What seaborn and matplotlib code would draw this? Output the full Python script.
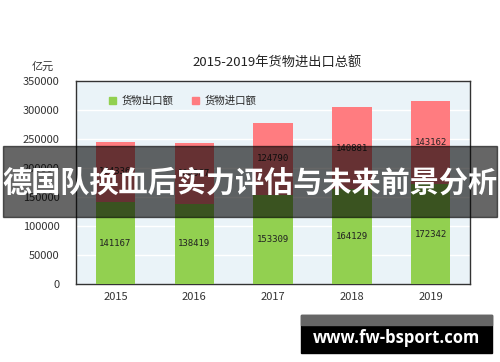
import seaborn as sns
import pandas as pd
import matplotlib.pyplot as plt
from matplotlib.patches import Rectangle, Patch

years = ['2015', '2016', '2017', '2018', '2019']
exports = [141167, 138419, 153309, 164129, 172342]
imports = [104336, 104967, 124790, 140881, 143162]
y_ticks = [0, 50000, 100000, 150000, 200000, 250000, 300000, 350000]

sns.set_style('white')
plt.rcParams['font.family'] = ['Noto Sans CJK SC', 'DejaVu Sans']

df = pd.DataFrame({'year': years, 'export': exports, 'import': imports})
df['total'] = df['export'] + df['import']

green = '#92d050'
red = '#ff7c80'

fig = plt.figure(figsize=(5, 3.62), dpi=100)
ax = fig.add_axes([0.152, 0.2155, 0.788, 0.5605])
ax.set_facecolor('#eaf3f8')

# 堆叠：先画总额（进口部分露在上面），再画出口
sns.barplot(data=df, x='year', y='total', color=red, width=0.5, ax=ax,
            saturation=1, zorder=2, linewidth=0)
sns.barplot(data=df, x='year', y='export', color=green, width=0.5, ax=ax,
            saturation=1, zorder=3, linewidth=0)

for i, (e, im) in enumerate(zip(exports, imports)):
    ax.text(i, e / 2, str(e), ha='center', va='center', fontsize=6.5,
            color='#222222', zorder=4, family='DejaVu Sans Mono')
    ax.text(i, e + im / 2, str(im), ha='center', va='center', fontsize=6.5,
            color='#222222', zorder=4, family='DejaVu Sans Mono')

ax.set_ylim(0, 350000)
ax.set_xlim(-0.5, 4.5)
ax.set_yticks(y_ticks)
ax.set_yticklabels([str(v) for v in y_ticks], fontsize=8, color='#333333')
ax.set_xticks(range(len(years)))
ax.set_xticklabels(years, fontsize=8, color='#333333')
ax.tick_params(axis='x', length=0, pad=6)
ax.set_xticks([0.5, 1.5, 2.5, 3.5], minor=True)
ax.tick_params(axis='x', which='minor', direction='in', length=3, color='#333333')
ax.tick_params(axis='y', direction='in', length=3, color='#333333', pad=12)
ax.yaxis.grid(True, color='white', linewidth=1)
ax.set_axisbelow(True)
ax.set_xlabel('')
ax.set_ylabel('')
for s in ax.spines.values():
    s.set_color('#333333')
    s.set_linewidth(1)

handles = [Patch(color=green, label='货物出口额'), Patch(color=red, label='货物进口额')]
ax.legend(handles=handles, loc='upper left', bbox_to_anchor=(0.06, 0.975),
          ncol=2, frameon=False, fontsize=7.5, handlelength=0.7,
          handleheight=0.7, handletextpad=0.5, columnspacing=1.8)

fig.text(0.554, 0.829, '2015-2019年货物进出口总额', ha='center', va='center',
         fontsize=9.5, color='#222222')
fig.text(0.086, 0.815, '亿元', ha='center', va='center', fontsize=8,
         color='#333333')

# 横幅
fig.patches.append(Rectangle((0.006, 0.4006), 0.988, 0.196,
                             transform=fig.transFigure, color='black',
                             alpha=0.6, zorder=10))
fig.text(0.5, 0.4945, '德国队换血后实力评估与未来前景分析', ha='center',
         va='center', fontsize=21, fontweight='heavy', color='white',
         zorder=11)

# 网址水印
fig.patches.append(Rectangle((0.602, 0.0249), 0.382, 0.105,
                             transform=fig.transFigure, color='black',
                             zorder=10))
fig.patches.append(Rectangle((0.602, 0.1022), 0.382, 0.0276,
                             transform=fig.transFigure, color='#666666',
                             zorder=11))
fig.text(0.793, 0.066, 'www.fw-bsport.com', ha='center', va='center',
         fontsize=12, fontweight='bold', color='white', family='Open Sans',
         zorder=12)

fig.savefig('out.png', dpi=100)
